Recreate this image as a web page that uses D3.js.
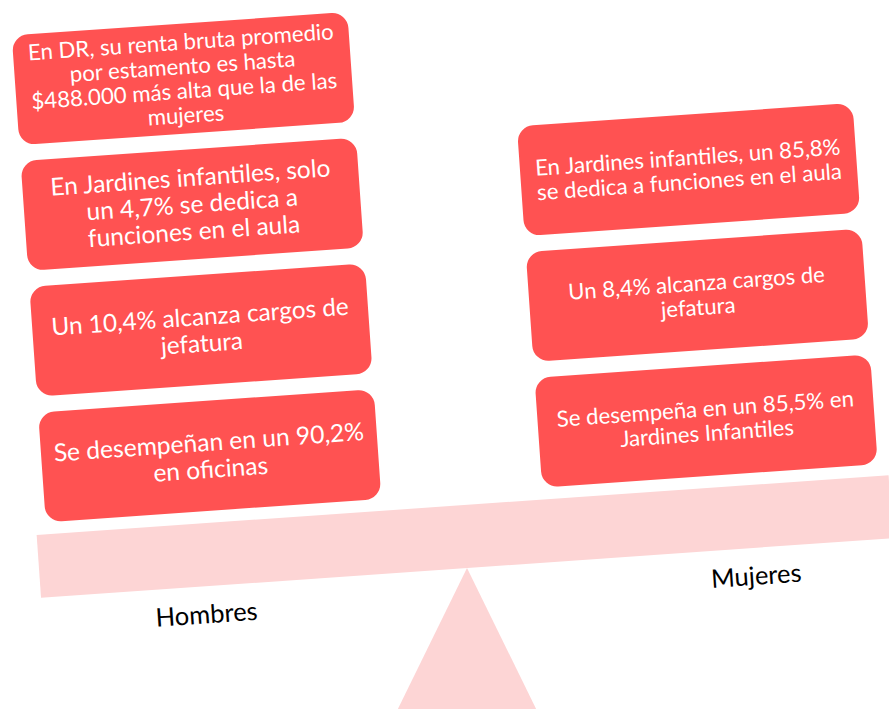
<!DOCTYPE html>
<html>
<head>
<meta charset="utf-8">
<script src="https://cdn.jsdelivr.net/npm/d3@7"></script>
<style>
  html, body { margin: 0; padding: 0; background: #fff; }
  svg { display: block; }
</style>
</head>
<body>
<div id="chart"></div>
<script>
const width = 889;
const height = 709;

// sides of the balance
const sides = ["Hombres", "Mujeres"];

// facts per side (line breaks as in the picture)
const hombresFacts = [
  ["En DR, su renta bruta promedio", "por estamento es hasta", "$488.000 más alta que la de las", "mujeres"],
  ["En Jardines infantiles, solo", "un 4,7% se dedica a", "funciones en el aula"],
  ["Un 10,4% alcanza cargos de", "jefatura"],
  ["Se desempeñan en un 90,2%", "en oficinas"]
];
const mujeresFacts = [
  ["En Jardines infantiles, un 85,8%", "se dedica a funciones en el aula"],
  ["Un 8,4% alcanza cargos de", "jefatura"],
  ["Se desempeña en un 85,5% en", "Jardines Infantiles"]
];
// which row each women's fact sits in
const mujeresRows = [1, 2, 3];

// font sizes per box (layout, not data)
const hombresFont = [22.2, 24.5, 24.4, 24.6];
const mujeresFont = [22.2, 22.1, 22.2];

const boxColor = "#ff5252";
const beamColor = "#fdd5d5";
const tilt = -4;            // degrees
const pivot = { x: 467, y: 568 };

const svg = d3.select("#chart").append("svg")
  .attr("width", width)
  .attr("height", height);

// fulcrum (not tilted)
svg.append("path")
  .attr("d", d3.line()([[pivot.x, pivot.y], [pivot.x + 76, height + 14], [pivot.x - 76, height + 14]]) + "Z")
  .attr("fill", beamColor);

const g = svg.append("g")
  .attr("transform", `rotate(${tilt}, ${pivot.x}, ${pivot.y})`);

const x = d3.scaleBand().domain(sides).range([50, 884]).paddingInner(0.324);
const y = d3.scaleBand().domain(d3.range(4)).range([5, 493]).paddingInner(0.127);

// beam
g.append("rect")
  .attr("x", 40)
  .attr("y", pivot.y - 63)
  .attr("width", 2 * (pivot.x - 40))
  .attr("height", 63)
  .attr("fill", beamColor);

const boxes = [];
hombresFacts.forEach((lines, i) => boxes.push({ side: "Hombres", row: i, lines, size: hombresFont[i] }));
mujeresFacts.forEach((lines, i) => boxes.push({ side: "Mujeres", row: mujeresRows[i], lines, size: mujeresFont[i] }));

const box = g.selectAll(".fact")
  .data(boxes)
  .join("g")
  .attr("class", "fact")
  .attr("transform", d => `translate(${x(d.side)},${y(d.row)})`);

box.append("rect")
  .attr("width", x.bandwidth())
  .attr("height", y.bandwidth())
  .attr("rx", 16)
  .attr("fill", boxColor);

box.each(function (d) {
  const lh = d.size * 1.1;
  const cy = y.bandwidth() / 2;
  d3.select(this).selectAll("text")
    .data(d.lines)
    .join("text")
    .attr("x", x.bandwidth() / 2)
    .attr("y", (l, i) => cy + (i - (d.lines.length - 1) / 2) * lh)
    .attr("dy", "0.35em")
    .attr("text-anchor", "middle")
    .attr("fill", "#fff")
    .style("font-family", "Lato, 'Open Sans', sans-serif")
    .style("font-size", d.size + "px")
    .text(l => l);
});

// side labels under the beam
const labelX = d3.scaleOrdinal().domain(sides).range([204, 755]);
g.selectAll(".side-label")
  .data(sides)
  .join("text")
  .attr("class", "side-label")
  .attr("x", d => labelX(d))
  .attr("y", pivot.y + 28)
  .attr("dy", "0.35em")
  .attr("text-anchor", "middle")
  .style("font-family", "Lato, 'Open Sans', sans-serif")
  .style("font-size", "25.5px")
  .attr("fill", "#000")
  .text(d => d);
</script>
</body>
</html>
